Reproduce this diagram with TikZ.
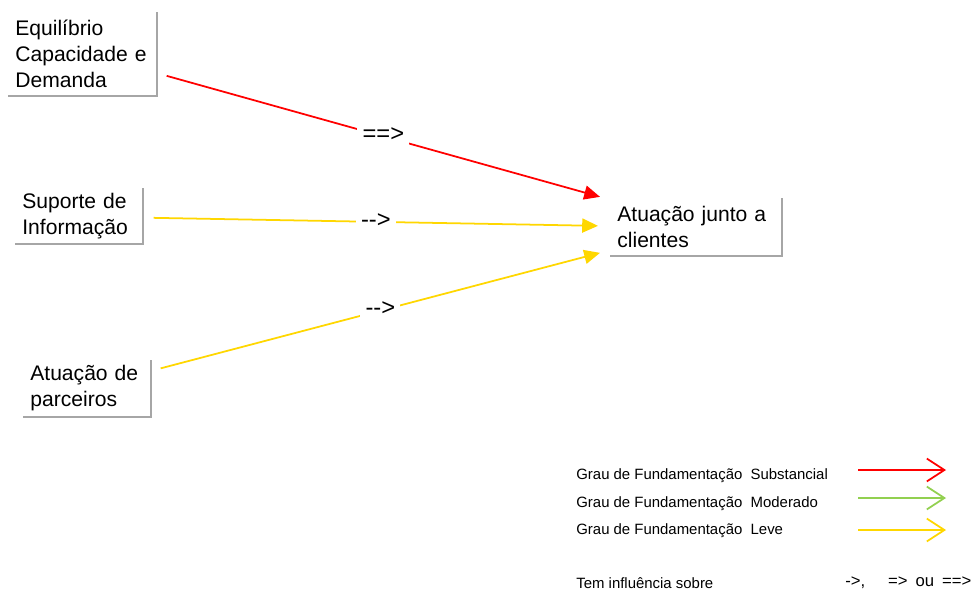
\documentclass[tikz,border=0pt]{standalone}
\usepackage{fontspec}
\setmainfont{Liberation Sans}
\usetikzlibrary{arrows.meta,calc}

\definecolor{vermelho}{HTML}{FF0000}
\definecolor{amarelo}{HTML}{FFD700}
\definecolor{verde}{HTML}{92D050}
\definecolor{sombra}{HTML}{A6A6A6}

\tikzset{
	caixa/.style={anchor=north west, align=left, inner xsep=0.14cm, inner ysep=0pt, font=\fontsize{12}{15}\selectfont},
	borda/.style={draw=sombra, line width=1.2pt},
	ligacao/.style={line width=1pt, -{Triangle[length=9pt,width=8pt]}},
	rotulo/.style={fill=white, text=black, inner sep=3pt, font=\fontsize{13.5}{14}\selectfont},
	legenda/.style={anchor=west, inner sep=0pt, font=\fontsize{8.5}{10}\selectfont},
	seta/.style={line width=1pt, -{Straight Barb[length=10pt,width=13pt,line width=1pt]}}
}

\begin{document}
\begin{tikzpicture}[x=0.02cm, y=-0.02cm]
			%%%%% START %%%%%
			
			\useasboundingbox[fill=white] (0, 0) rectangle (976, 592);
			
			\node[caixa, text width=2.68cm, minimum height=1.66cm] (equilibrio) at (8, 12) {Equilíbrio\\Capacidade e\\Demanda};
			\node[caixa, text width=2.26cm, minimum height=1.1cm] (suporte) at (15, 188) {Suporte de\\Informação};
			\node[caixa, text width=2.26cm, minimum height=1.12cm] (parceiros) at (23, 360) {Atuação de\\parceiros};
			\node[caixa, text width=3.14cm, minimum height=1.14cm] (clientes) at (610, 198) {Atuação junto a\\clientes};
			
			\draw[borda] (equilibrio.north east) -- (equilibrio.south east) -- (equilibrio.south west);
			\draw[borda] (suporte.north east) -- (suporte.south east) -- (suporte.south west);
			\draw[borda] (parceiros.north east) -- (parceiros.south east) -- (parceiros.south west);
			\draw[borda] (clientes.north east) -- (clientes.south east) -- (clientes.south west);
			
			\draw[ligacao, color=vermelho] ([shift={(10,22)}]equilibrio.east) -- node[rotulo, yshift=1pt] {==>} ([shift={(-10,-30)}]clientes.west);
			\draw[ligacao, color=amarelo] ([shift={(11,2)}]suporte.east) -- node[rotulo, yshift=1pt] {-{}->} ([shift={(-12,-1)}]clientes.west);
			\draw[ligacao, color=amarelo] ([shift={(10,-20)}]parceiros.east) -- node[rotulo, yshift=1pt] {-{}->} ([shift={(-10,26)}]clientes.west);
			
			% legenda
			\node[legenda] (substancial) at (576, 476) {Grau de Fundamentação\ \ Substancial};
			\node[legenda] (moderado) at (576, 504) {Grau de Fundamentação\ \ Moderado};
			\node[legenda] (leve) at (576, 531) {Grau de Fundamentação\ \ Leve};
			\node[legenda] (influencia) at (576, 583) {Tem influência sobre};
			\node[legenda, font=\fontsize{9.5}{10}\selectfont] (simbolos) at (845, 583) {->,\hspace{13pt}=>\hspace{4.5pt}ou\hspace{4.5pt}==>};
			
			\coordinate (s1) at (858, 470); \coordinate (s2) at (946, 470);
			\coordinate (m1) at (858, 498); \coordinate (m2) at (946, 498);
			\coordinate (l1) at (858, 530); \coordinate (l2) at (946, 530);
			\draw[seta, color=vermelho] (s1) -- (s2);
			\draw[seta, color=verde] (m1) -- (m2);
			\draw[seta, color=amarelo] (l1) -- (l2);
			
			%%%%% END %%%%%
\end{tikzpicture}
\end{document}
